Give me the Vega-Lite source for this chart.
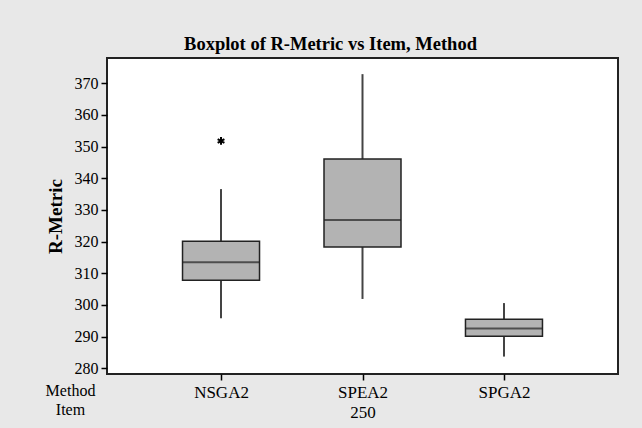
{
  "$schema": "https://vega.github.io/schema/vega-lite/v6.json",
  "width": 511,
  "height": 316,
  "autosize": {"type": "none"},
  "padding": {"left": 107, "top": 58, "right": 24, "bottom": 54},
  "background": "#e8e8e8",
  "title": {
    "text": "Boxplot of R-Metric vs Item, Method",
    "font": "Liberation Serif",
    "fontSize": 18.5,
    "fontWeight": "bold",
    "color": "black",
    "offset": 5,
    "dx": -32,
    "anchor": "middle"
  },
  "config": {
    "view": {"fill": "white", "stroke": "#222222", "strokeWidth": 2},
    "font": "Liberation Serif",
    "axisY": {
      "values": [280, 290, 300, 310, 320, 330, 340, 350, 360, 370],
      "labelOverlap": false,
      "labelFontSize": 16,
      "labelColor": "black",
      "labelPadding": 3,
      "tickSize": 6,
      "tickColor": "black",
      "tickWidth": 1.5,
      "domain": false,
      "grid": false,
      "titleFontSize": 19,
      "titleFontWeight": "bold",
      "titleColor": "black",
      "titlePadding": 9
    }
  },
  "data": {
    "values": [
      {"Method": "NSGA2", "low": 295.8, "q1": 307.8, "median": 313.5, "q3": 320.1, "high": 336.6, "outlier": 351.8},
      {"Method": "SPEA2", "low": 301.9, "q1": 318.3, "median": 326.8, "q3": 346.1, "high": 372.9, "outlier": null},
      {"Method": "SPGA2", "low": 283.7, "q1": 290.1, "median": 292.6, "q3": 295.5, "high": 300.6, "outlier": null}
    ]
  },
  "encoding": {
    "x": {
      "field": "Method",
      "type": "nominal",
      "scale": {"type": "point", "padding": 0.806},
      "axis": {
        "title": ["Method", "Item"],
        "titleX": -37,
        "titleY": 8,
        "titleAlign": "center",
        "titleBaseline": "top",
        "titleFontWeight": "normal",
        "titleFontSize": 16,
        "titleLineHeight": 19,
        "titleColor": "black",
        "labelAngle": 0,
        "labelFontSize": 17,
        "labelPadding": 4,
        "labelLineHeight": 20,
        "labelColor": "black",
        "labelExpr": "datum.value == 'SPEA2' ? ['SPEA2', '250'] : datum.value",
        "tickSize": 6,
        "tickColor": "black",
        "tickWidth": 1.5,
        "domain": false
      }
    }
  },
  "layer": [
    {
      "mark": {"type": "rule", "color": "#444444", "strokeWidth": 2},
      "encoding": {
        "y": {
          "field": "low",
          "type": "quantitative",
          "scale": {"domain": [278.2, 378], "nice": false, "zero": false},
          "axis": {"title": "R-Metric", "values": [280, 290, 300, 310, 320, 330, 340, 350, 360, 370], "labelOverlap": false}
        },
        "y2": {"field": "high"}
      }
    },
    {
      "mark": {"type": "bar", "size": 77, "fill": "#b3b3b3", "stroke": "#222222", "strokeWidth": 1.5},
      "encoding": {
        "y": {"field": "q1", "type": "quantitative", "axis": {"title": "R-Metric", "values": [280, 290, 300, 310, 320, 330, 340, 350, 360, 370], "labelOverlap": false}},
        "y2": {"field": "q3"}
      }
    },
    {
      "mark": {"type": "tick", "size": 77, "thickness": 2, "color": "#222222"},
      "encoding": {
        "y": {"field": "median", "type": "quantitative", "axis": {"title": "R-Metric", "values": [280, 290, 300, 310, 320, 330, 340, 350, 360, 370], "labelOverlap": false}}
      }
    },
    {
      "mark": {
        "type": "point",
        "shape": "M0,-1L0,1M-0.87,-0.5L0.87,0.5M-0.87,0.5L0.87,-0.5",
        "filled": false,
        "stroke": "black",
        "strokeWidth": 2,
        "size": 60,
        "opacity": 1
      },
      "encoding": {
        "y": {"field": "outlier", "type": "quantitative", "axis": {"title": "R-Metric", "values": [280, 290, 300, 310, 320, 330, 340, 350, 360, 370], "labelOverlap": false}}
      }
    }
  ]
}
